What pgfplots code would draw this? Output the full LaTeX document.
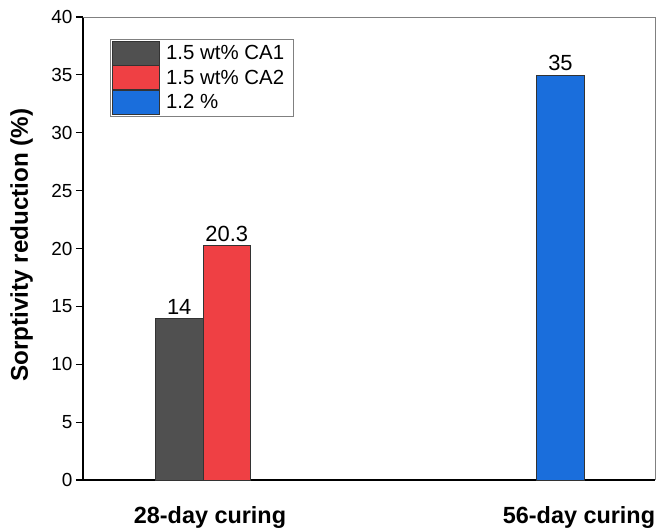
\documentclass[border=0pt]{standalone}
\usepackage{pgfplots}
\pgfplotsset{compat=1.18}
\usepackage{fontspec}
\setmainfont{Liberation Sans}
\definecolor{cgrey}{HTML}{505050}
\definecolor{cred}{HTML}{EF4044}
\definecolor{cblue}{HTML}{1A6EDC}
\begin{document}
\begin{tikzpicture}
\useasboundingbox (-83bp,-52bp) rectangle (574bp,480bp);
\begin{axis}[
  scale only axis,
  width=572bp, height=463bp,
  xmin=-0.33566, xmax=1.26434,
  ymin=0, ymax=40,
  axis x line*=bottom, axis y line*=left,
  axis line style={-, line width=2bp, black},
  ytick={0,5,...,40},
  tick align=outside,
  major tick length=7bp,
  tick style={line width=1.2bp, black},
  xtick={0.0196,1.0517},
  xticklabels={28-day curing,56-day curing},
  major x tick style={draw=none},
  xticklabel style={font=\fontsize{23.5}{28}\selectfont\bfseries, anchor=base, yshift=-36bp},
  yticklabel style={font=\fontsize{19}{22}\selectfont, xshift=0bp},
  /pgf/number format/assume math mode=true,
  ylabel={Sorptivity reduction (\%)},
  ylabel style={font=\fontsize{24.3}{28}\selectfont\bfseries, at={(axis description cs:-0.1075,0.5076)}, anchor=center, rotate=0},
  ybar, bar width=47.5bp,
  every axis plot/.append style={draw=black!80, line width=0.6bp},
  nodes near coords,
  every node near coord/.append style={font=\fontsize{22}{24}\selectfont, black, inner sep=1bp, anchor=south, yshift=2.5bp},
  clip=false,
  legend style={at={(0.0472,0.9525)}, anchor=north west, draw=gray, line width=0.6bp, font=\fontsize{20.5}{22}\selectfont, inner sep=1.5bp, row sep=0bp, nodes={inner sep=1bp, anchor=west}},
  legend image code/.code={\draw[#1] (0bp,-12bp) rectangle (47bp,12bp); \path[draw=none, fill=none] (0bp,0bp) -- (53bp,0bp);},
  legend cell align=left,
]
\addplot[fill=cgrey, bar shift=-23.75bp, nodes near coords={14}] coordinates {(0,14)};
\addplot[fill=cred, bar shift=23.75bp, nodes near coords={20.3}] coordinates {(0,20.3)};
\addplot[fill=cblue, bar shift=0bp, nodes near coords={35}] coordinates {(1,35)};
\legend{1.5 wt\% CA1, 1.5 wt\% CA2\hspace*{7bp}, 1.2 \%}
\draw[gray, line width=0.8bp] (rel axis cs:0,1) -- (rel axis cs:1,1) -- (rel axis cs:1,0);
\end{axis}
\end{tikzpicture}
\end{document}
